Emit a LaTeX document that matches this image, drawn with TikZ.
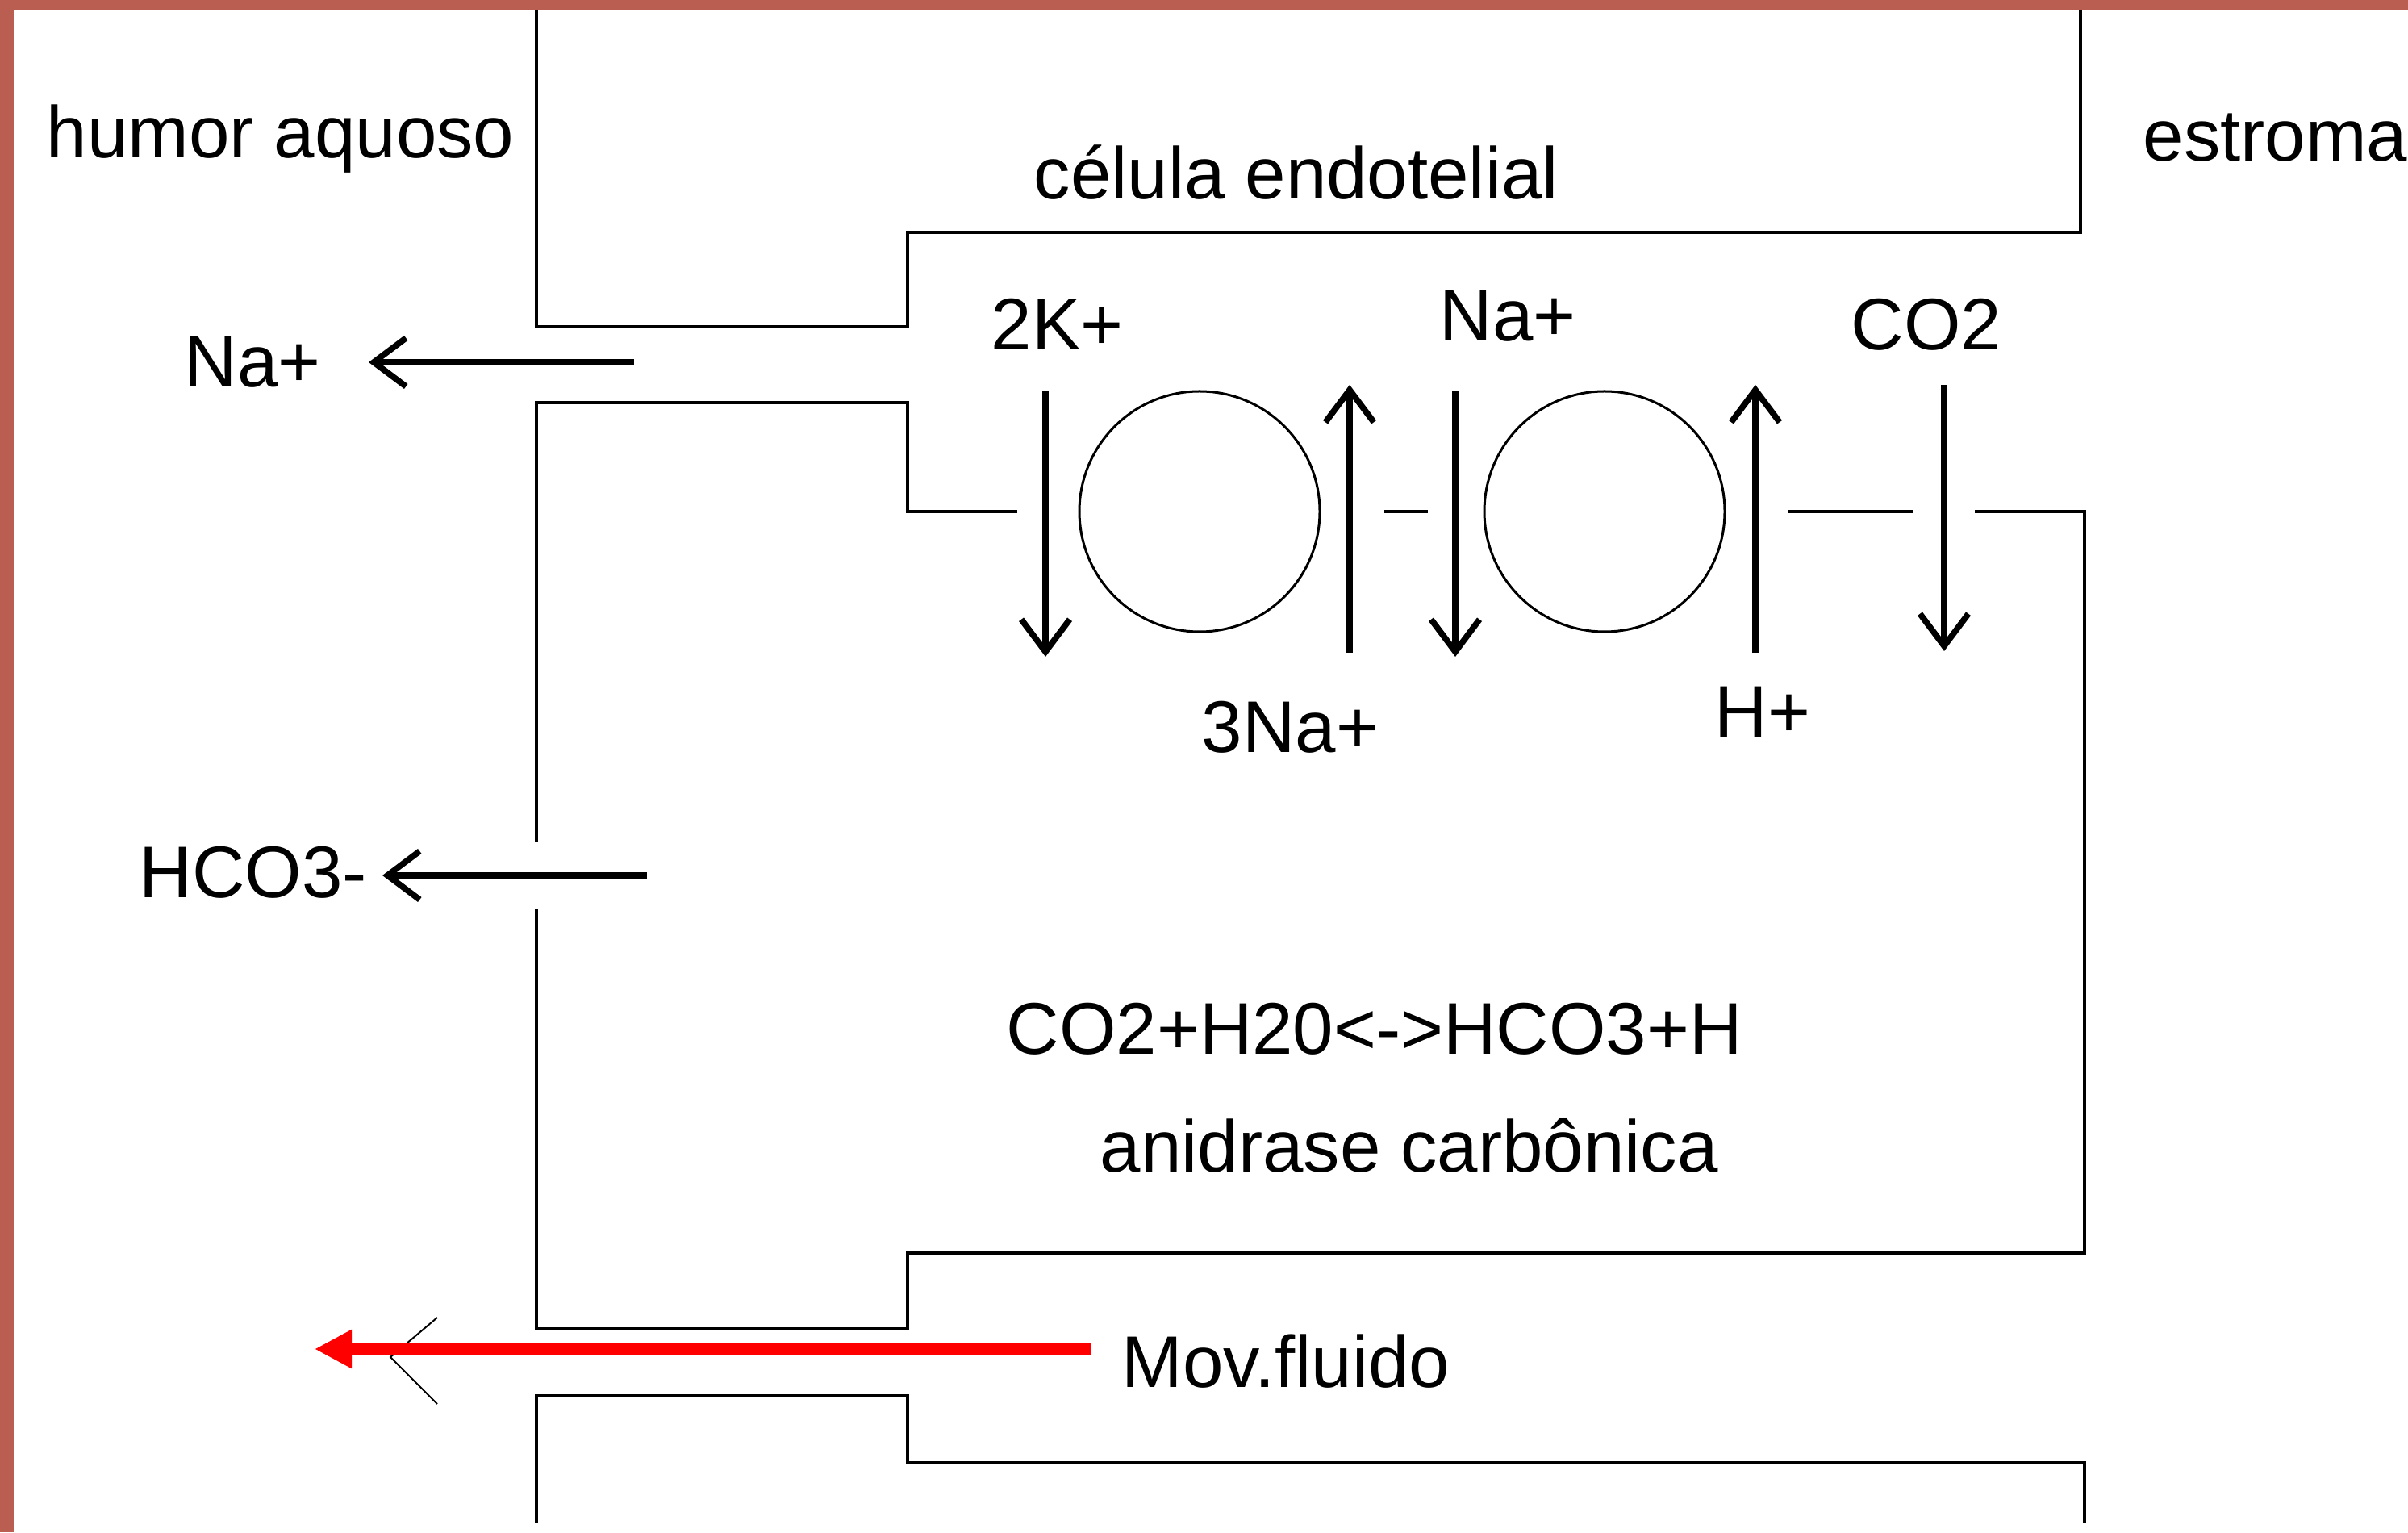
\documentclass[tikz,border=0pt]{standalone}
\usepackage{fontspec}
\setmainfont{Liberation Sans}
\usepackage{tikz}
\usetikzlibrary{arrows.meta}
\definecolor{moldura}{RGB}{185,94,81}
\newcommand{\letra}{\fontsize{25.8}{31}\selectfont}
\tikzset{
	parede/.style = {line width = 0.04cm},
	ion/.style = {line width = 0.075cm, -{Straight Barb[length=0.4cm, width=0.6cm]}},
	rotulo/.style = {anchor = base west, inner sep = 0pt, font = \letra},
	bomba/.style = {circle, draw, line width = 0.03cm, minimum size = 2.98cm, inner sep = 0pt}
}

\begin{document}
\begin{tikzpicture} [scale = 1]
	\useasboundingbox (0,0) rectangle (29.85,18.99);
	% moldura
	\fill [moldura] (0,0) rectangle (0.17,18.99);
	\fill [moldura] (0,18.86) rectangle (29.85,18.99);
	% parede de cima
	\draw [parede] (6.65,18.86) -- (6.65,14.94) -- (11.25,14.94) -- (11.25,16.11) -- (25.79,16.11) -- (25.79,18.86);
	% celula endotelial
	\draw [parede] (12.61,12.65) -- (11.25,12.65) -- (11.25,14.00) -- (6.65,14.00) -- (6.65,8.56);
	\draw [parede] (6.65,7.72) -- (6.65,2.52) -- (11.25,2.52) -- (11.25,3.46) -- (25.84,3.46) -- (25.84,12.65) -- (24.48,12.65);
	\draw [parede] (17.16,12.65) -- (17.70,12.65);
	\draw [parede] (22.16,12.65) -- (23.72,12.65);
	% parede de baixo
	\draw [parede] (6.65,0.12) -- (6.65,1.69) -- (11.25,1.69) -- (11.25,0.86) -- (25.84,0.86) -- (25.84,0.12);
	% bombas
	\node [bomba] (bombaA) at (14.87,12.65) {};
	\node [bomba] (bombaB) at (19.89,12.65) {};
	% textos
	\node [rotulo] (humor) at (0.57,17.03) {humor aquoso};
	\node [rotulo] (celula) at (12.81,16.52) {célula endotelial};
	\node [rotulo] (estroma) at (26.56,16.99) {estroma};
	\node [rotulo] (naEsq) at (2.28,14.19) {Na+};
	\node [rotulo] (kDois) at (12.28,14.65) {2K+};
	\node [rotulo] (naCima) at (17.84,14.76) {Na+};
	\node [rotulo] (coDois) at (22.94,14.65) {CO2};
	\node [rotulo] (naTres) at (14.89,9.66) {3Na+};
	\node [rotulo] (hMais) at (21.25,9.85) {H+};
	\node [rotulo] (hco) at (1.72,7.86) {HCO3-};
	\node [rotulo] (reacao) at (12.47,5.93) {CO2+H20<->HCO3+H};
	\node [rotulo] (enzima) at (13.63,4.46) {anidrase carbônica};
	\node [rotulo] (mov) at (13.90,1.80) {Mov.fluido};
	% pontas das setas
	\coordinate (naIni) at (7.86,14.50);
	\coordinate (naFim) at (4.57,14.50);
	\coordinate (hcoIni) at (8.02,8.14);
	\coordinate (hcoFim) at (4.74,8.14);
	\coordinate (kIni) at (12.96,14.14);
	\coordinate (kFim) at (12.96,10.85);
	\coordinate (naTresIni) at (16.73,10.90);
	\coordinate (naTresFim) at (16.73,14.22);
	\coordinate (naCimaIni) at (18.04,14.14);
	\coordinate (naCimaFim) at (18.04,10.85);
	\coordinate (hIni) at (21.76,10.90);
	\coordinate (hFim) at (21.76,14.22);
	\coordinate (coIni) at (24.10,14.22);
	\coordinate (coFim) at (24.10,10.92);
	\coordinate (fluxoIni) at (13.53,2.27);
	\coordinate (fluxoFim) at (3.90,2.27);
	\coordinate (vA) at (5.42,2.66);
	\coordinate (vB) at (4.84,2.17);
	\coordinate (vC) at (5.42,1.59);
	% setas dos ions
	\draw [ion] (naIni) -- (naFim);
	\draw [ion] (hcoIni) -- (hcoFim);
	\draw [ion] (kIni) -- (kFim);
	\draw [ion] (naTresIni) -- (naTresFim);
	\draw [ion] (naCimaIni) -- (naCimaFim);
	\draw [ion] (hIni) -- (hFim);
	\draw [ion] (coIni) -- (coFim);
	% movimento do fluido
	\draw [line width = 0.02cm] (vA) -- (vB) -- (vC);
	\draw [red, line width = 0.16cm, -{Triangle[length=0.46cm, width=0.45cm]}] (fluxoIni) -- (fluxoFim);
\end{tikzpicture}
\end{document}
